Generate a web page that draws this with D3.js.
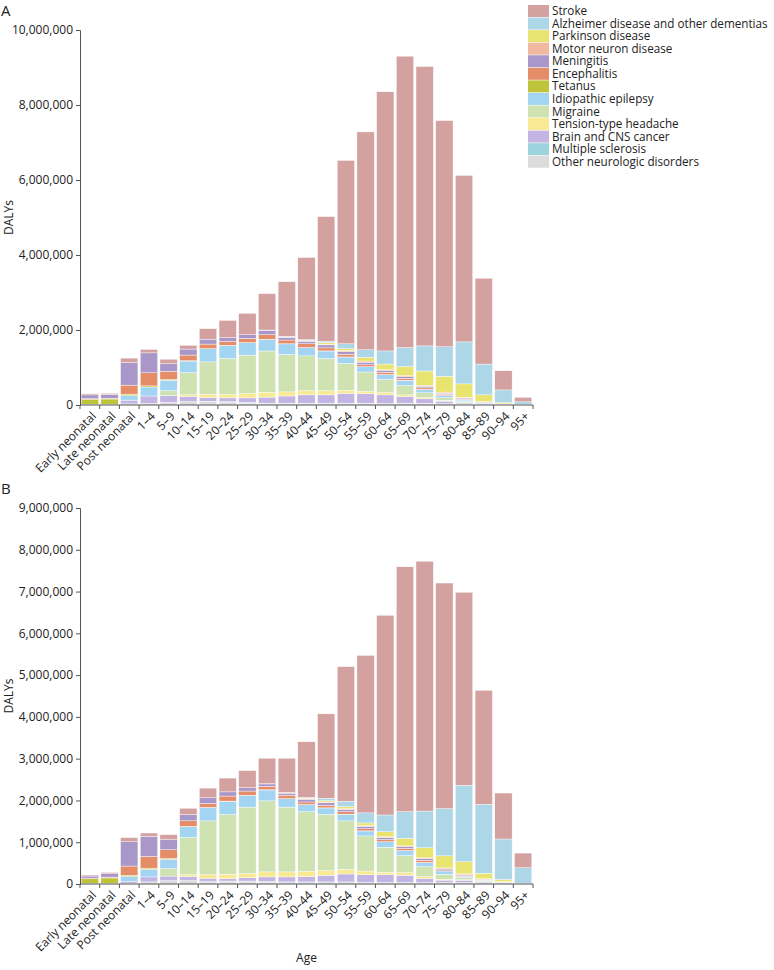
<!DOCTYPE html>
<html><head><meta charset="utf-8">
<script src="https://cdn.jsdelivr.net/npm/d3@7/dist/d3.min.js"></script>
<style>body{margin:0;background:#fff}svg{display:block}text{font-family:"Open Sans",sans-serif;fill:#222}</style>
</head><body><svg id="c" width="774" height="970"></svg>
<script>
const ages = ["Early neonatal","Late neonatal","Post neonatal","1–4","5–9","10–14","15–19","20–24","25–29","30–34","35–39","40–44","45–49","50–54","55–59","60–64","65–69","70–74","75–79","80–84","85–89","90–94","95+"];
const seriesNames = ["Stroke","Alzheimer disease and other dementias","Parkinson disease","Motor neuron disease","Meningitis","Encephalitis","Tetanus","Idiopathic epilepsy","Migraine","Tension-type headache","Brain and CNS cancer","Multiple sclerosis","Other neurologic disorders"];
const seriesColors = ["#d4a1a1","#add6e6","#e9e46f","#f0b9a0","#a897c8","#e58c68","#bec33a","#a3d5f3","#cfe2b2","#fae993","#c3b5e3","#9ed2dc","#dcdcdc"];
const UNIT = 1e6; // values below are in millions of DALYs

// Panel A
const strokeA = [0.03,0.03,0.12,0.09,0.12,0.10,0.28,0.46,0.57,0.97,1.46,2.19,3.32,4.89,5.81,6.91,7.77,7.45,6.03,4.44,2.29,0.51,0.12];
const alzA    = [0,0,0,0,0,0,0,0,0,0,0.01,0.02,0.04,0.13,0.20,0.35,0.51,0.67,0.79,1.12,0.82,0.34,0.07];
const parkA   = [0,0,0,0,0,0,0,0,0,0,0.005,0.01,0.04,0.05,0.10,0.15,0.24,0.38,0.42,0.36,0.18,0.03,0.005];
const mndA    = [0,0,0,0,0,0,0,0,0,0.005,0.01,0.02,0.02,0.03,0.03,0.03,0.03,0.03,0.03,0.02,0.01,0.003,0.001];
const menA    = [0.10,0.10,0.60,0.53,0.20,0.16,0.13,0.10,0.10,0.12,0.07,0.06,0.08,0.07,0.07,0.04,0.04,0.04,0.03,0.03,0.01,0.005,0.001];
const encA    = [0.02,0.02,0.24,0.35,0.22,0.15,0.12,0.10,0.11,0.12,0.10,0.10,0.08,0.07,0.05,0.06,0.05,0.04,0.03,0.02,0.01,0.003,0.001];
const tetA    = [0.13,0.14,0.04,0.03,0.02,0.01,0.005,0.005,0.005,0.005,0.003,0.003,0.003,0.002,0.002,0.002,0.002,0.001,0.001,0.001,0,0,0];
const epiA    = [0.01,0.01,0.12,0.24,0.28,0.31,0.35,0.35,0.33,0.31,0.28,0.22,0.20,0.17,0.14,0.13,0.14,0.09,0.06,0.04,0.02,0.005,0.001];
const migA    = [0,0,0,0,0.13,0.59,0.86,0.96,1.03,1.10,1.00,0.93,0.86,0.72,0.52,0.35,0.25,0.13,0.07,0.03,0.01,0.002,0];
const tthA    = [0,0,0,0,0,0.04,0.09,0.09,0.11,0.13,0.11,0.11,0.11,0.08,0.06,0.06,0.04,0.03,0.02,0.01,0.005,0.001,0];
const brainA  = [0.005,0.005,0.10,0.20,0.18,0.14,0.10,0.10,0.12,0.16,0.19,0.22,0.22,0.26,0.25,0.23,0.18,0.12,0.07,0.03,0.01,0.003,0.001];
const msA     = [0,0,0,0,0,0.002,0.01,0.02,0.02,0.02,0.02,0.02,0.02,0.02,0.02,0.01,0.01,0.005,0.003,0.002,0.001,0,0];
const otherA  = [0.005,0.005,0.03,0.04,0.07,0.09,0.09,0.07,0.05,0.03,0.03,0.03,0.03,0.03,0.03,0.03,0.04,0.04,0.03,0.02,0.015,0.01,0.005];

// Panel B
const strokeB = [0.025,0.03,0.10,0.08,0.12,0.15,0.23,0.33,0.41,0.61,0.82,1.33,2.02,3.22,3.77,4.78,5.86,5.98,5.40,4.62,2.73,1.10,0.35];
const alzB    = [0,0,0,0,0,0,0,0,0,0,0.005,0.02,0.06,0.13,0.24,0.40,0.64,0.88,1.13,1.83,1.65,0.97,0.37];
const parkB   = [0,0,0,0,0,0,0,0,0,0,0.003,0.01,0.03,0.05,0.06,0.12,0.18,0.24,0.29,0.29,0.13,0.05,0.005];
const mndB    = [0,0,0,0,0,0,0,0,0,0.005,0.01,0.02,0.02,0.02,0.02,0.02,0.02,0.02,0.02,0.02,0.01,0.003,0.001];
const menB    = [0.05,0.08,0.58,0.48,0.24,0.15,0.14,0.10,0.08,0.06,0.05,0.06,0.06,0.05,0.06,0.05,0.04,0.04,0.025,0.02,0.01,0.004,0.001];
const encB    = [0.015,0.02,0.22,0.28,0.21,0.13,0.09,0.12,0.10,0.08,0.08,0.06,0.06,0.06,0.05,0.05,0.05,0.05,0.025,0.02,0.01,0.004,0.001];
const tetB    = [0.11,0.13,0.03,0.03,0.02,0.01,0.005,0.005,0.005,0.005,0.003,0.003,0.003,0.002,0.002,0.002,0.002,0.001,0.001,0.001,0,0,0];
const epiB    = [0.005,0.005,0.12,0.18,0.22,0.26,0.32,0.32,0.28,0.26,0.20,0.17,0.15,0.16,0.12,0.13,0.12,0.10,0.08,0.03,0.01,0.005,0.001];
const migB    = [0,0,0,0,0.18,0.89,1.29,1.43,1.59,1.70,1.55,1.43,1.35,1.16,0.84,0.60,0.41,0.24,0.12,0.05,0.03,0.005,0];
const tthB    = [0,0,0,0,0,0.04,0.08,0.10,0.10,0.12,0.12,0.12,0.11,0.11,0.09,0.06,0.06,0.04,0.02,0.01,0.005,0.001,0];
const brainB  = [0.005,0.005,0.04,0.12,0.11,0.10,0.08,0.06,0.08,0.11,0.12,0.13,0.16,0.19,0.18,0.18,0.17,0.10,0.06,0.06,0.02,0.005,0.001];
const msB     = [0,0,0,0,0,0.002,0.01,0.02,0.02,0.02,0.02,0.02,0.02,0.02,0.01,0.01,0.01,0.005,0.003,0.002,0.001,0,0];
const otherB  = [0.005,0.005,0.02,0.05,0.08,0.08,0.05,0.05,0.05,0.04,0.03,0.03,0.03,0.03,0.03,0.03,0.03,0.03,0.03,0.03,0.03,0.03,0.01];

const yTicksA = [0,2e6,4e6,6e6,8e6,10e6];
const yTicksB = [0,1e6,2e6,3e6,4e6,5e6,6e6,7e6,8e6,9e6];

const panelA = [strokeA,alzA,parkA,mndA,menA,encA,tetA,epiA,migA,tthA,brainA,msA,otherA];
const panelB = [strokeB,alzB,parkB,mndB,menB,encB,tetB,epiB,migB,tthB,brainB,msB,otherB];

const svg = d3.select("#c");
const left = 80, right = 533;

function drawPanel(series, yTop, yBottom, yMax, ticks, letter, letterY) {
  const g = svg.append("g");
  const rows = ages.map((a, i) => {
    const r = {age: a};
    seriesNames.forEach((s, k) => r[s] = series[k][i] * UNIT);
    return r;
  });
  const x = d3.scaleBand().domain(ages).range([left, right]).paddingInner(0.12).paddingOuter(0.06);
  const y = d3.scaleLinear().domain([0, yMax]).range([yBottom, yTop]);
  const stackKeys = seriesNames.slice().reverse(); // bottom: Other ... top: Stroke
  const stacked = d3.stack().keys(stackKeys)(rows);
  g.selectAll("g.layer").data(stacked).join("g")
    .attr("fill", d => seriesColors[seriesNames.indexOf(d.key)])
    .selectAll("rect").data(d => d).join("rect")
    .attr("x", d => x(d.data.age))
    .attr("width", x.bandwidth())
    .attr("y", d => y(d[1]))
    .attr("height", d => Math.max(0, y(d[0]) - y(d[1])))
    .attr("stroke", "#fff").attr("stroke-width", 0.4);

  // y axis
  const ya = g.append("g").attr("transform", `translate(${left},0)`)
    .call(d3.axisLeft(y).tickValues(ticks).tickFormat(d3.format(",")).tickSize(4).tickPadding(3));
  ya.select(".domain").attr("stroke", "#555");
  ya.selectAll(".tick line").attr("stroke", "#555");
  ya.selectAll(".tick text").style("font-size", "12px").style("font-family", "'Open Sans',sans-serif").attr("fill", "#222");

  // x axis: line, ticks at band boundaries, labels at centers
  g.append("line").attr("x1", left).attr("x2", right).attr("y1", yBottom).attr("y2", yBottom).attr("stroke", "#555");
  const bounds = d3.range(ages.length + 1).map(i => i === ages.length ? right : x(ages[i]) - x.step() * x.paddingInner() / 2);
  bounds[0] = left;
  g.selectAll("line.xt").data(bounds).join("line").attr("class", "xt")
    .attr("x1", d => d).attr("x2", d => d).attr("y1", yBottom).attr("y2", yBottom + 4).attr("stroke", "#555");
  g.selectAll("text.xl").data(ages).join("text").attr("class", "xl")
    .attr("transform", d => `translate(${x(d) + x.bandwidth() / 2 + 4},${yBottom + 9}) rotate(-45)`)
    .attr("text-anchor", "end").attr("dy", "0.35em")
    .style("font-size", "12px").text(d => d);

  g.append("text").attr("transform", `translate(13,${(yTop + yBottom) / 2}) rotate(-90)`)
    .attr("text-anchor", "middle").style("font-size", "12px").text("DALYs");
  g.append("text").attr("x", 1).attr("y", letterY).style("font-size", "15px").text(letter);
}

drawPanel(panelA, 30, 405, 10e6, yTicksA, "A", 16);
drawPanel(panelB, 508, 884, 9e6, yTicksB, "B", 494);

svg.append("text").attr("x", (left + right) / 2).attr("y", 962).attr("text-anchor", "middle")
  .style("font-size", "12px").text("Age");

// legend
const lg = svg.append("g").attr("transform", "translate(528,5)");
const lrow = 12.56;
lg.selectAll("rect").data(seriesNames).join("rect")
  .attr("x", 0).attr("y", (d, i) => i * lrow).attr("width", 21).attr("height", 12)
  .attr("fill", (d, i) => seriesColors[i]);
lg.selectAll("text").data(seriesNames).join("text")
  .attr("x", 24).attr("y", (d, i) => i * lrow + 6).attr("dy", "0.35em")
  .style("font-size", "11.7px").text(d => d);
</script></body></html>
